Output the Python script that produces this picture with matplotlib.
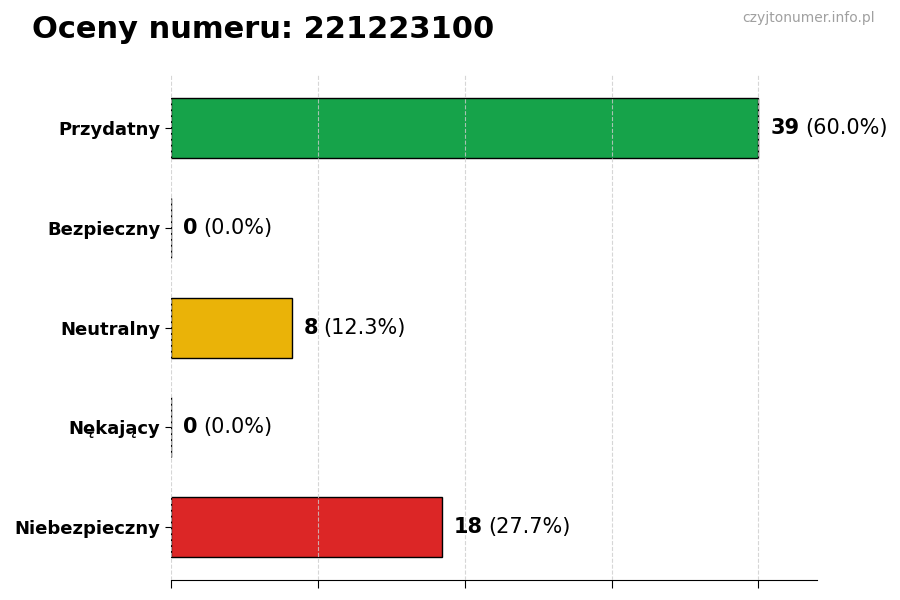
import matplotlib
matplotlib.use("Agg")
import matplotlib.pyplot as plt
import numpy as np

categories = ["Przydatny", "Bezpieczny", "Neutralny", "Nękający", "Niebezpieczny"]
counts = [39, 0, 8, 0, 18]
percents = [60.0, 0.0, 12.3, 0.0, 27.7]
colors = ["#16a34a", "#9ca3af", "#eab308", "#f97316", "#dc2626"]
title = "Oceny numeru: 221223100"
watermark = "czyjtonumer.info.pl"

fig = plt.figure(figsize=(9, 6), dpi=100)
ax = fig.add_axes([0.19, 0.033, 0.718, 0.842])

y = np.arange(len(categories))
ax.barh(y, counts, height=0.6, color=colors, edgecolor="black", linewidth=1, zorder=2)
ax.set_yticks(y)
ax.set_yticklabels(categories, fontsize=13, fontweight="bold")
ax.invert_yaxis()
mx = max(counts)
ax.set_xlim(0, mx * 1.1)
ax.set_xticks(np.linspace(0, mx, 5))
ax.set_xticklabels([])
ax.grid(axis="x", linestyle="--", color="#cccccc", linewidth=0.8, alpha=0.8, zorder=3)
ax.set_axisbelow(False)
for s in ["top", "right", "left"]:
    ax.spines[s].set_visible(False)
ax.tick_params(axis="x", length=6)
ax.tick_params(axis="y", length=4)

fig.canvas.draw()
r = fig.canvas.get_renderer()
for yi, c, p in zip(y, counts, percents):
    t = ax.text(c + mx * 0.02, yi, str(c), fontsize=15, fontweight="bold", va="center", ha="left")
    bb = t.get_window_extent(renderer=r)
    inv = ax.transData.inverted()
    x1 = inv.transform((bb.x1, bb.y0))[0]
    ax.annotate(f"({p:.1f}%)", xy=(x1, yi), xytext=(4, 0), textcoords="offset points",
                fontsize=15, va="center", ha="left", annotation_clip=False)

fig.text(0.035, 0.95, title, fontsize=22, fontweight="bold", ha="left", va="center")
fig.text(0.972, 0.97, watermark, fontsize=10, color="#a0a0a0", ha="right", va="center")

fig.savefig("out.png", dpi=100)
